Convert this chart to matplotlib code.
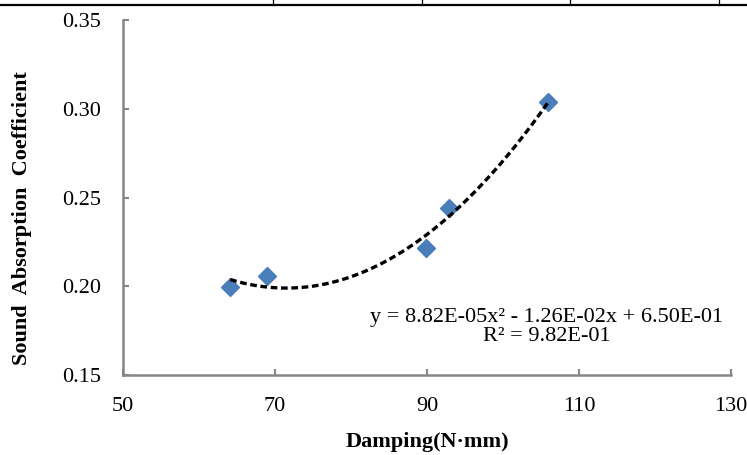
import numpy as np
import matplotlib
matplotlib.use("Agg")
import matplotlib.pyplot as plt
from matplotlib.lines import Line2D

plt.rcParams["font.family"] = ["Liberation Serif", "DejaVu Serif"]

# damping (N·mm) vs sound absorption coefficient
damping = [64.1, 68.9, 89.8, 92.9, 105.9]
absorption = [0.1995, 0.2058, 0.2218, 0.2440, 0.3038]
x_ticks = [50, 70, 90, 110, 130]
y_ticks = [0.15, 0.20, 0.25, 0.30, 0.35]
equation = "y = 8.82E-05x² - 1.26E-02x + 6.50E-01"
r2_text = "R² = 9.82E-01"

fig = plt.figure(figsize=(7.47, 4.55), dpi=100)
ax = fig.add_axes([0.1647, 0.1758, 0.814, 0.780])

coef = np.polyfit(damping, absorption, 2)
xs = np.linspace(min(damping), max(damping), 200)
ax.plot(xs, np.polyval(coef, xs), color="black", lw=2.4, ls=(0, (2.0, 1.1)), zorder=3)
ax.plot(damping, absorption, ls="none", marker="D", ms=9.5,
        color="#4a7ebb", markeredgecolor="#4a7ebb", zorder=2)

ax.set_xlim(50, 130)
ax.set_ylim(0.15, 0.35)
ax.set_xticks(x_ticks)
ax.set_yticks(y_ticks)
ax.set_yticklabels([f"{v:.2f}" for v in y_ticks])
ax.tick_params(direction="in", length=4, width=1.5, color="#868686",
               labelsize=16, pad=16)
for side in ["top", "right"]:
    ax.spines[side].set_visible(False)
for side in ["left", "bottom"]:
    ax.spines[side].set_color("#868686")
    ax.spines[side].set_linewidth(1.8)

ax.set_xlabel("Damping(N·mm)", fontsize=16, fontweight="bold")
ax.set_ylabel("Sound  Absorption  Coefficient", fontsize=16, fontweight="bold")
ax.xaxis.set_label_coords(0.5, -0.16)
ax.yaxis.set_label_coords(-0.150, 0.442)

ax.text(0.697, 0.135, equation + "\n" + r2_text, transform=ax.transAxes,
        ha="center", va="center", fontsize=16, linespacing=1.0)

# table border remnants at the top edge
fig.add_artist(Line2D([0, 1], [1 - 4.5 / 455] * 2, color="black", lw=1.6,
                      transform=fig.transFigure))
for px in [273, 422, 570, 719]:
    fig.add_artist(Line2D([px / 747] * 2, [1, 1 - 4.5 / 455], color="black", lw=0.9,
                          transform=fig.transFigure))

fig.savefig("out.png", dpi=100)
